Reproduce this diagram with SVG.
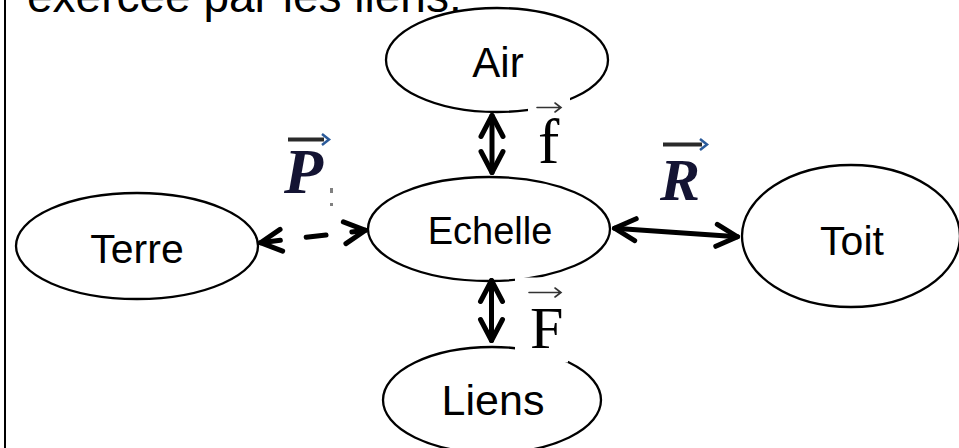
<svg xmlns="http://www.w3.org/2000/svg" width="959" height="448" viewBox="0 0 959 448">
  <style>
    .node { fill: #ffffff; stroke: #000000; stroke-width: 2.3; }
    .lbl { font-family: "Liberation Sans", Arial, sans-serif; fill: #000000; text-anchor: middle; }
    .link { fill: none; stroke: #000000; stroke-width: 5; stroke-linecap: round; }
    .dash { stroke-dasharray: 20 26; }
    .math { font-family: "Liberation Serif", "Times New Roman", serif; fill: #000000; }
    .vec { fill: none; stroke: #333333; stroke-width: 1.6; stroke-linecap: round; }
    .cover { fill: #ffffff; stroke: none; }
  </style>
  <defs>
    <marker id="head" viewBox="-26 -15 30 30" markerWidth="30" markerHeight="30" refX="0" refY="0" orient="auto-start-reverse" markerUnits="userSpaceOnUse" overflow="visible">
      <path d="M -21 -11 L 0 0 L -21 11" fill="none" stroke="#000000" stroke-width="5" stroke-linecap="round" stroke-linejoin="round"/>
    </marker>
  </defs>

  <rect x="0" y="0" width="959" height="448" fill="#ffffff"/>

  <!-- page margin rule and clipped heading line -->
  <line x1="5" y1="0" x2="5" y2="448" stroke="#000000" stroke-width="2"/>
  <text x="27" y="12" font-family="Liberation Sans, Arial, sans-serif" font-size="46" fill="#000000">exercée par les liens.</text>

  <!-- nodes -->
  <g id="air">
    <ellipse class="node" cx="497" cy="60" rx="111" ry="52"/>
    <text class="lbl" x="498" y="77" font-size="42">Air</text>
  </g>
  <g id="echelle">
    <ellipse class="node" cx="489" cy="229" rx="121" ry="52"/>
    <text class="lbl" x="490" y="244" font-size="38">Echelle</text>
  </g>
  <g id="terre">
    <ellipse class="node" cx="137" cy="246" rx="121" ry="53"/>
    <text class="lbl" x="137" y="263" font-size="41">Terre</text>
  </g>
  <g id="toit">
    <ellipse class="node" cx="851" cy="236" rx="109" ry="71"/>
    <text class="lbl" x="852" y="255" font-size="41">Toit</text>
  </g>
  <g id="liens">
    <ellipse class="node" cx="492" cy="400" rx="109" ry="53"/>
    <text class="lbl" x="493" y="415" font-size="43">Liens</text>
  </g>

  <!-- connectors -->
  <g id="connectors">
    <line class="link" x1="492" y1="115.5" x2="492" y2="172.5" marker-start="url(#head)" marker-end="url(#head)"/>
    <line class="link" x1="491.5" y1="280.5" x2="491.5" y2="340.5" marker-start="url(#head)" marker-end="url(#head)"/>
    <line class="link dash" x1="260.5" y1="242.7" x2="365.5" y2="230.3" marker-start="url(#head)" marker-end="url(#head)"/>
    <line class="link" x1="614.5" y1="228.2" x2="737.5" y2="236.8" marker-start="url(#head)" marker-end="url(#head)"/>
  </g>

  <!-- force labels -->
  <g id="label-f">
    <rect class="cover" x="528" y="97" width="42" height="75"/>
    <path class="vec" d="M 537 107.5 L 561 107.5 M 555 103 L 561 107.5 L 555 112"/>
    <text class="math" x="538" y="163" font-size="64">f</text>
  </g>
  <g id="label-F">
    <rect class="cover" x="515" y="277.5" width="53" height="85"/>
    <path class="vec" d="M 529 292.5 L 561 292.5 M 555 288 L 561 292.5 L 555 297"/>
    <text class="math" x="530" y="348" font-size="60">F</text>
  </g>
  <g id="label-P">
    <path d="M 288 139.5 L 324 139.5" stroke="#2a2a2a" stroke-width="4"/>
    <path d="M 322 134 L 329 139.5 L 322 145" fill="none" stroke="#2a5a9a" stroke-width="2.5"/>
    <text x="284" y="193" font-family="Liberation Serif, Times New Roman, serif" font-weight="bold" font-style="italic" font-size="64" fill="#141433">P</text>
    <rect x="330" y="188" width="3" height="5" fill="#808080"/>
    <rect x="330" y="203" width="3" height="3" fill="#808080"/>
  </g>
  <g id="label-R">
    <path d="M 663 144.5 L 702 144.5" stroke="#2a2a2a" stroke-width="4"/>
    <path d="M 700 139 L 707 144.5 L 700 150" fill="none" stroke="#2a5a9a" stroke-width="2.5"/>
    <text x="660" y="200" font-family="Liberation Serif, Times New Roman, serif" font-weight="bold" font-style="italic" font-size="60" fill="#141433">R</text>
  </g>
</svg>
